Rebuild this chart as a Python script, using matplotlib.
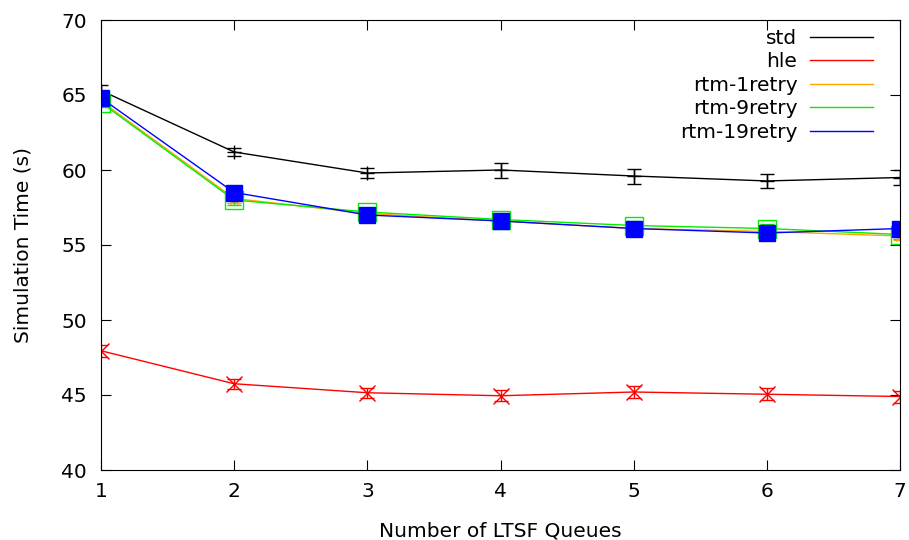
import matplotlib
matplotlib.use("Agg")
import matplotlib.pyplot as plt

# number of LTSF queues
queues = [1, 2, 3, 4, 5, 6, 7]

std = [65.3, 61.2, 59.8, 60.0, 59.6, 59.27, 59.5]
std_err = [0.4, 0.3, 0.35, 0.5, 0.5, 0.45, 0.5]

hle = [47.95, 45.75, 45.15, 44.95, 45.2, 45.05, 44.9]
hle_err = [0.4, 0.35, 0.35, 0.35, 0.4, 0.4, 0.4]

rtm1 = [64.6, 58.1, 57.1, 56.6, 56.1, 55.9, 55.6]
rtm1_err = [0.3, 0.3, 0.2, 0.3, 0.3, 0.3, 0.3]

rtm9 = [64.5, 58.0, 57.2, 56.7, 56.3, 56.1, 55.7]
rtm9_err = [0.3, 0.3, 0.2, 0.3, 0.3, 0.3, 0.3]

rtm19 = [64.8, 58.5, 57.0, 56.6, 56.1, 55.8, 56.1]
rtm19_err = [0.3, 0.3, 0.2, 0.3, 0.3, 0.3, 0.3]

plt.rcParams["font.family"] = ["DejaVu Sans"]
plt.rcParams["font.size"] = 14.5

fig = plt.figure(figsize=(9.09, 5.4), dpi=100)
ax = fig.add_axes([101 / 909, 70 / 540, 799 / 909, 450 / 540])

ax.errorbar(queues, std, yerr=std_err, color="black", lw=1, capsize=5,
            elinewidth=1, marker="+", ms=10, mew=1, label="std")
ax.errorbar(queues, hle, yerr=hle_err, color="red", lw=1, capsize=5,
            elinewidth=1, marker="x", ms=12, mew=1, label="hle")
ax.errorbar(queues, rtm1, yerr=rtm1_err, color="orange", lw=1, capsize=5,
            elinewidth=1, marker="*", ms=9, mew=1, mfc="none", label="rtm-1retry")
ax.errorbar(queues, rtm9, yerr=rtm9_err, color="#00ee00", lw=1, capsize=5,
            elinewidth=1, marker="s", ms=12.5, mew=1, mfc="none", label="rtm-9retry")
ax.errorbar(queues, rtm19, yerr=rtm19_err, color="blue", lw=1, capsize=5,
            elinewidth=1, marker="s", ms=12, mew=1, label="rtm-19retry")

ax.set_xlim(1, 7)
ax.set_ylim(40, 70)
ax.set_xticks(queues)
ax.set_yticks([40, 45, 50, 55, 60, 65, 70])
ax.tick_params(direction="in", length=7, top=True, right=True)
ax.tick_params(axis="x", pad=8.5)
ax.tick_params(axis="y", pad=10)
ax.set_xlabel("Number of LTSF Queues", labelpad=15)
ax.set_ylabel("Simulation Time (s)", labelpad=21)

handles, labels = ax.get_legend_handles_labels()
lines = [plt.Line2D([], [], color=h[0].get_color(), lw=1) for h in handles]
ax.legend(lines, labels, loc="upper right", frameon=False, markerfirst=False,
          handlelength=3.1, handletextpad=0.65, labelspacing=0.22,
          borderpad=0, borderaxespad=0, bbox_to_anchor=(0.966, 0.98))

fig.savefig("out.png", dpi=100)
